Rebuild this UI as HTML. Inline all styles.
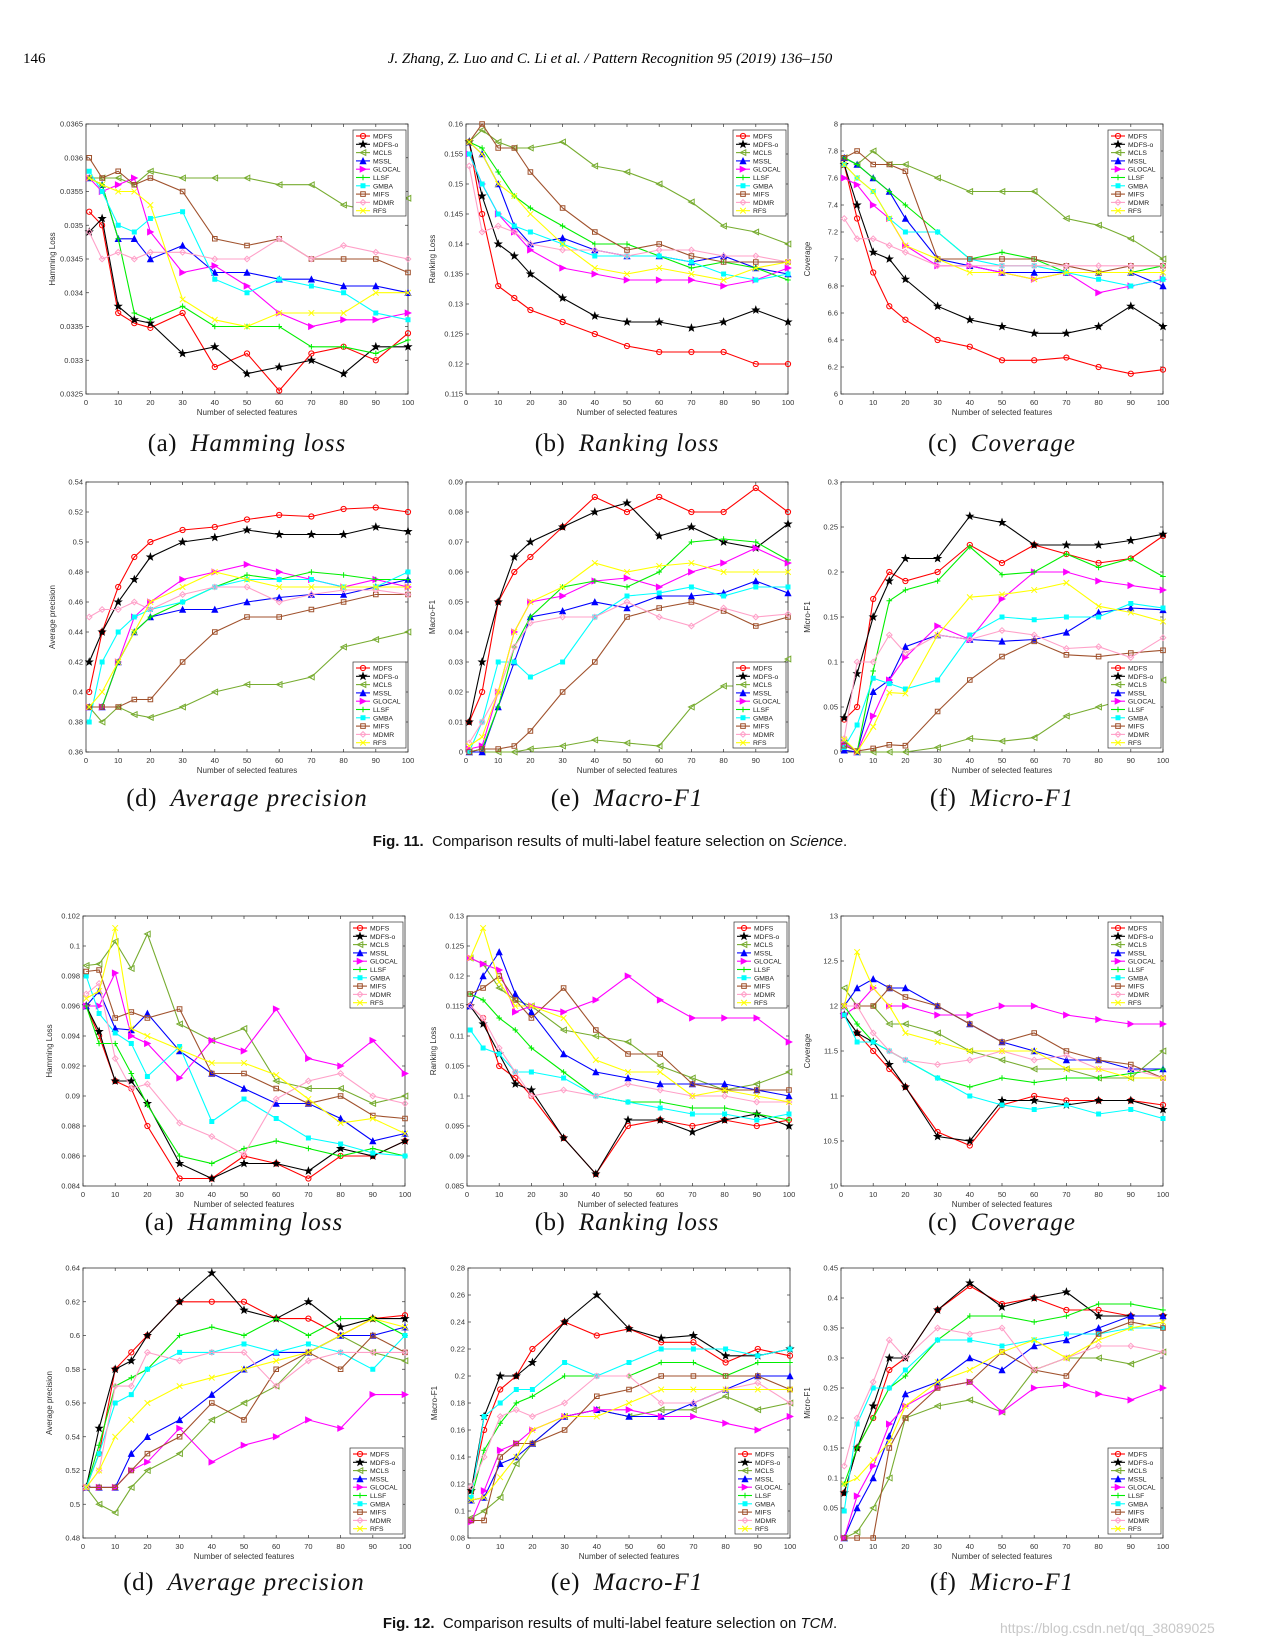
<!DOCTYPE html>
<html><head><meta charset="utf-8">
<style>
html,body{margin:0;padding:0;background:#fff;}
body{width:1269px;height:1642px;position:relative;overflow:hidden;font-family:"Liberation Sans",sans-serif;}
.abs{position:absolute;}
.cap{position:absolute;font-family:"Liberation Serif",serif;font-size:25px;color:#111;transform:translateX(-50%);white-space:nowrap;letter-spacing:0.5px;}
.cap i{letter-spacing:1px;}
.fig{position:absolute;font-family:"Liberation Sans",sans-serif;font-size:15px;color:#111;transform:translateX(-50%);white-space:nowrap;}
</style></head>
<body>
<div class="abs" style="left:23px;top:51px;font-family:'Liberation Serif',serif;font-size:15px;">146</div>
<div class="abs" style="left:610px;top:51px;transform:translateX(-50%);font-family:'Liberation Serif',serif;font-style:italic;font-size:15px;white-space:nowrap;">J. Zhang, Z. Luo and C. Li et al. / Pattern Recognition 95 (2019) 136–150</div>

<svg id="charts" width="1269" height="1642" style="position:absolute;left:0;top:0"></svg>

<div class="cap" style="left:247px;top:430px">(a)&nbsp; <i>Hamming loss</i></div>
<div class="cap" style="left:627px;top:430px">(b)&nbsp; <i>Ranking loss</i></div>
<div class="cap" style="left:1002px;top:430px">(c)&nbsp; <i>Coverage</i></div>
<div class="cap" style="left:247px;top:785px">(d)&nbsp; <i>Average precision</i></div>
<div class="cap" style="left:627px;top:785px">(e)&nbsp; <i>Macro-F1</i></div>
<div class="cap" style="left:1002px;top:785px">(f)&nbsp; <i>Micro-F1</i></div>
<div class="fig" style="left:610px;top:833px"><b>Fig. 11.</b>&nbsp; Comparison results of multi-label feature selection on <i>Science</i>.</div>

<div class="cap" style="left:244px;top:1209px">(a)&nbsp; <i>Hamming loss</i></div>
<div class="cap" style="left:627px;top:1209px">(b)&nbsp; <i>Ranking loss</i></div>
<div class="cap" style="left:1002px;top:1209px">(c)&nbsp; <i>Coverage</i></div>
<div class="cap" style="left:244px;top:1569px">(d)&nbsp; <i>Average precision</i></div>
<div class="cap" style="left:627px;top:1569px">(e)&nbsp; <i>Macro-F1</i></div>
<div class="cap" style="left:1002px;top:1569px">(f)&nbsp; <i>Micro-F1</i></div>
<div class="fig" style="left:610px;top:1615px"><b>Fig. 12.</b>&nbsp; Comparison results of multi-label feature selection on <i>TCM</i>.</div>
<div class="abs" style="left:1000px;top:1620px;font-size:14px;color:#c8c8c8;white-space:nowrap;">https://blog.csdn.net/qq_38089025</div>

<script>
const xs = [1,5,10,15,20,30,40,50,60,70,80,90,100];
const names = ["MDFS","MDFS-o","MCLS","MSSL","GLOCAL","LLSF","GMBA","MIFS","MDMR","RFS"];

const sciHamming = [
[0.0352,0.0350,0.0337,0.03355,0.03348,0.0337,0.0329,0.0331,0.03255,0.0331,0.0332,0.0330,0.0334],
[0.0349,0.0351,0.0338,0.0336,0.03355,0.0331,0.0332,0.0328,0.0329,0.0330,0.0328,0.0332,0.0332],
[0.0357,0.0357,0.0357,0.0356,0.0358,0.0357,0.0357,0.0357,0.0356,0.0356,0.0353,0.0352,0.0354],
[0.0357,0.0356,0.0348,0.0348,0.0345,0.0347,0.0343,0.0343,0.0342,0.0342,0.0341,0.0341,0.0340],
[0.0357,0.0355,0.0356,0.0357,0.0349,0.0343,0.0344,0.0341,0.0337,0.0335,0.0336,0.0336,0.0337],
[0.0357,0.0356,0.0348,0.0337,0.0336,0.0338,0.0335,0.0335,0.0335,0.0332,0.0332,0.0331,0.0333],
[0.0358,0.0355,0.0350,0.0349,0.0351,0.0352,0.0342,0.0340,0.0342,0.0341,0.0340,0.0337,0.0336],
[0.0360,0.0357,0.0358,0.0356,0.0357,0.0355,0.0348,0.0347,0.0348,0.0345,0.0345,0.0345,0.0343],
[0.0349,0.0345,0.0346,0.0345,0.0346,0.0346,0.0345,0.0345,0.0348,0.0345,0.0347,0.0346,0.0345],
[0.0357,0.0356,0.0355,0.0355,0.0353,0.0339,0.0336,0.0335,0.0337,0.0337,0.0337,0.0340,0.0340]];
const sciRanking = [
[0.157,0.145,0.133,0.131,0.129,0.127,0.125,0.123,0.122,0.122,0.122,0.120,0.120],
[0.157,0.148,0.140,0.138,0.135,0.131,0.128,0.127,0.127,0.126,0.127,0.129,0.127],
[0.157,0.159,0.157,0.156,0.156,0.157,0.153,0.152,0.150,0.147,0.143,0.142,0.140],
[0.157,0.155,0.150,0.143,0.140,0.141,0.139,0.138,0.138,0.137,0.138,0.136,0.135],
[0.155,0.150,0.145,0.142,0.139,0.136,0.135,0.134,0.134,0.134,0.133,0.134,0.136],
[0.157,0.156,0.152,0.148,0.146,0.143,0.140,0.140,0.138,0.136,0.137,0.136,0.134],
[0.155,0.150,0.145,0.143,0.142,0.140,0.138,0.138,0.138,0.137,0.135,0.134,0.135],
[0.157,0.160,0.156,0.156,0.152,0.146,0.142,0.139,0.140,0.138,0.137,0.137,0.137],
[0.153,0.142,0.143,0.142,0.140,0.139,0.139,0.138,0.139,0.139,0.138,0.138,0.137],
[0.157,0.155,0.150,0.148,0.145,0.140,0.136,0.135,0.136,0.135,0.134,0.136,0.137]];
const sciCoverage = [
[7.7,7.3,6.9,6.65,6.55,6.4,6.35,6.25,6.25,6.27,6.2,6.15,6.18],
[7.7,7.4,7.05,7.0,6.85,6.65,6.55,6.5,6.45,6.45,6.5,6.65,6.5],
[7.75,7.7,7.8,7.7,7.7,7.6,7.5,7.5,7.5,7.3,7.25,7.15,7.0],
[7.75,7.7,7.6,7.5,7.3,7.0,6.95,6.9,6.9,6.9,6.9,6.9,6.8],
[7.6,7.55,7.4,7.3,7.1,6.95,6.95,6.9,6.85,6.9,6.75,6.8,6.85],
[7.75,7.7,7.6,7.5,7.4,7.2,7.0,7.05,7.0,6.9,6.9,6.9,6.95],
[7.7,7.6,7.5,7.3,7.2,7.2,7.0,6.95,6.95,6.9,6.85,6.8,6.85],
[7.75,7.8,7.7,7.7,7.65,7.0,7.0,7.0,7.0,6.95,6.9,6.95,6.95],
[7.3,7.15,7.15,7.1,7.05,6.95,6.95,6.95,6.95,6.95,6.95,6.95,6.95],
[7.7,7.6,7.5,7.3,7.1,7.0,6.9,6.9,6.85,6.9,6.9,6.9,6.9]];
const sciAvgPrec = [
[0.40,0.44,0.47,0.49,0.50,0.508,0.51,0.515,0.518,0.517,0.522,0.523,0.52],
[0.42,0.44,0.46,0.475,0.49,0.50,0.503,0.508,0.505,0.505,0.505,0.51,0.507],
[0.39,0.38,0.39,0.385,0.383,0.39,0.40,0.405,0.405,0.41,0.43,0.435,0.44],
[0.39,0.39,0.42,0.44,0.45,0.455,0.455,0.46,0.463,0.465,0.465,0.47,0.475],
[0.39,0.39,0.42,0.45,0.46,0.475,0.48,0.485,0.48,0.475,0.47,0.475,0.47],
[0.39,0.39,0.42,0.44,0.45,0.46,0.47,0.478,0.475,0.48,0.478,0.475,0.475],
[0.38,0.42,0.44,0.45,0.455,0.46,0.47,0.475,0.475,0.475,0.47,0.47,0.48],
[0.39,0.39,0.39,0.395,0.395,0.42,0.44,0.45,0.45,0.455,0.46,0.465,0.465],
[0.45,0.455,0.455,0.46,0.455,0.465,0.47,0.47,0.46,0.465,0.468,0.468,0.465],
[0.39,0.40,0.42,0.44,0.46,0.47,0.48,0.475,0.47,0.47,0.47,0.47,0.47]];
const sciMacro = [
[0.01,0.02,0.05,0.06,0.065,0.075,0.085,0.08,0.085,0.08,0.08,0.088,0.08],
[0.01,0.03,0.05,0.065,0.07,0.075,0.08,0.083,0.072,0.075,0.07,0.068,0.076],
[0,0,0,0,0.001,0.002,0.004,0.003,0.002,0.015,0.022,0.022,0.031],
[0,0,0.015,0.03,0.045,0.047,0.05,0.048,0.052,0.052,0.053,0.057,0.053],
[0.001,0.002,0.02,0.04,0.05,0.052,0.057,0.058,0.055,0.06,0.063,0.068,0.063],
[0,0.001,0.015,0.035,0.045,0.055,0.057,0.055,0.06,0.07,0.071,0.07,0.064],
[0,0.01,0.03,0.03,0.025,0.03,0.045,0.052,0.053,0.055,0.052,0.055,0.055],
[0,0.001,0.001,0.002,0.007,0.02,0.03,0.045,0.048,0.05,0.047,0.042,0.045],
[0.003,0.01,0.02,0.035,0.043,0.045,0.045,0.05,0.045,0.042,0.048,0.045,0.046],
[0.002,0.005,0.02,0.04,0.05,0.055,0.063,0.06,0.062,0.063,0.06,0.06,0.06]];
const sciMicro = [
[0.036,0.05,0.17,0.2,0.19,0.2,0.23,0.21,0.23,0.22,0.21,0.215,0.24],
[0.038,0.087,0.15,0.19,0.215,0.215,0.262,0.255,0.23,0.23,0.23,0.235,0.242],
[0.01,0,0,0,0,0.005,0.015,0.012,0.016,0.04,0.05,0.06,0.08],
[0.002,0,0.067,0.08,0.117,0.13,0.125,0.123,0.125,0.133,0.155,0.16,0.158],
[0.01,0,0.04,0.08,0.105,0.14,0.125,0.17,0.2,0.2,0.19,0.185,0.18],
[0.013,0,0.09,0.168,0.18,0.19,0.228,0.197,0.2,0.22,0.205,0.215,0.195],
[0.005,0.03,0.082,0.076,0.07,0.08,0.13,0.15,0.147,0.15,0.15,0.165,0.16],
[0.007,0.001,0.004,0.008,0.007,0.045,0.08,0.106,0.123,0.108,0.106,0.11,0.113],
[0.015,0.1,0.1,0.13,0.11,0.13,0.125,0.135,0.13,0.115,0.117,0.105,0.127],
[0.014,0,0.028,0.066,0.065,0.13,0.172,0.175,0.18,0.188,0.162,0.155,0.145]];
const tcmHamming = [
[0.096,0.094,0.091,0.0905,0.088,0.0845,0.0845,0.086,0.0855,0.0845,0.086,0.086,0.087],
[0.096,0.0943,0.091,0.091,0.0895,0.0855,0.0845,0.0855,0.0855,0.085,0.0865,0.086,0.087],
[0.0987,0.0988,0.1003,0.0985,0.1008,0.0948,0.0937,0.0945,0.091,0.0905,0.0905,0.0895,0.09],
[0.096,0.097,0.0945,0.0944,0.0955,0.093,0.0915,0.0905,0.0895,0.0895,0.0885,0.087,0.0875],
[0.096,0.096,0.0982,0.094,0.0935,0.0912,0.0937,0.093,0.0958,0.0925,0.092,0.0937,0.0915],
[0.096,0.0935,0.0935,0.0915,0.0894,0.086,0.0855,0.0865,0.087,0.0865,0.086,0.0865,0.086],
[0.098,0.0955,0.0942,0.0935,0.0913,0.0933,0.0883,0.0898,0.0885,0.0872,0.0868,0.0862,0.086],
[0.0983,0.0984,0.0952,0.0956,0.0952,0.0958,0.0915,0.0915,0.0905,0.0895,0.09,0.0887,0.0885],
[0.0968,0.0975,0.0925,0.0905,0.0908,0.0882,0.0873,0.0861,0.0898,0.091,0.0915,0.09,0.0895],
[0.0965,0.097,0.1012,0.0945,0.094,0.0931,0.0922,0.0922,0.0914,0.0898,0.0882,0.0885,0.0875]];
const tcmRanking = [
[0.115,0.113,0.105,0.103,0.100,0.093,0.087,0.095,0.096,0.095,0.096,0.095,0.096],
[0.115,0.112,0.107,0.102,0.101,0.093,0.087,0.096,0.096,0.094,0.096,0.097,0.095],
[0.123,0.122,0.118,0.116,0.115,0.111,0.110,0.109,0.105,0.103,0.101,0.102,0.104],
[0.115,0.120,0.124,0.117,0.114,0.107,0.104,0.103,0.102,0.102,0.102,0.101,0.100],
[0.123,0.122,0.121,0.114,0.115,0.114,0.116,0.120,0.116,0.113,0.113,0.113,0.109],
[0.117,0.116,0.113,0.111,0.108,0.104,0.100,0.099,0.099,0.098,0.098,0.097,0.096],
[0.111,0.108,0.107,0.104,0.104,0.103,0.100,0.099,0.098,0.097,0.097,0.096,0.097],
[0.117,0.118,0.120,0.116,0.113,0.118,0.111,0.107,0.107,0.102,0.101,0.101,0.101],
[0.115,0.113,0.108,0.104,0.100,0.101,0.100,0.102,0.101,0.100,0.100,0.099,0.099],
[0.123,0.128,0.119,0.115,0.115,0.113,0.106,0.104,0.104,0.100,0.101,0.100,0.099]];
const tcmCoverage = [
[11.9,11.7,11.5,11.3,11.1,10.6,10.45,10.9,11.0,10.95,10.95,10.95,10.9],
[11.9,11.7,11.6,11.35,11.1,10.55,10.5,10.95,10.95,10.9,10.95,10.95,10.85],
[12.2,12.0,12.0,11.8,11.8,11.7,11.5,11.4,11.3,11.3,11.2,11.2,11.5],
[12.0,12.2,12.3,12.2,12.2,12.0,11.8,11.6,11.5,11.4,11.4,11.3,11.3],
[11.9,12.0,12.2,12.0,12.0,11.9,11.9,12.0,12.0,11.9,11.85,11.8,11.8],
[12.0,11.8,11.6,11.5,11.4,11.2,11.1,11.2,11.15,11.2,11.2,11.25,11.3],
[11.9,11.6,11.6,11.5,11.4,11.2,11.0,10.9,10.85,10.9,10.8,10.85,10.75],
[12.0,12.0,12.0,12.2,12.1,12.0,11.8,11.6,11.7,11.5,11.4,11.35,11.2],
[12.0,12.0,11.7,11.5,11.4,11.35,11.4,11.5,11.4,11.45,11.3,11.3,11.2],
[12.0,12.6,12.2,12.0,11.7,11.6,11.5,11.5,11.5,11.3,11.3,11.2,11.2]];
const tcmAvgPrec = [
[0.51,0.53,0.58,0.59,0.60,0.62,0.62,0.62,0.61,0.61,0.60,0.61,0.612],
[0.51,0.545,0.58,0.585,0.60,0.62,0.637,0.615,0.61,0.62,0.605,0.61,0.61],
[0.51,0.50,0.495,0.51,0.52,0.53,0.55,0.56,0.57,0.59,0.60,0.59,0.585],
[0.51,0.51,0.51,0.53,0.54,0.55,0.565,0.58,0.59,0.59,0.60,0.60,0.605],
[0.51,0.51,0.51,0.52,0.525,0.545,0.525,0.535,0.54,0.55,0.545,0.565,0.565],
[0.51,0.535,0.57,0.575,0.58,0.60,0.605,0.60,0.61,0.60,0.61,0.61,0.60],
[0.51,0.53,0.56,0.565,0.58,0.59,0.59,0.595,0.59,0.595,0.59,0.58,0.60],
[0.51,0.51,0.51,0.52,0.53,0.54,0.56,0.55,0.58,0.59,0.58,0.60,0.59],
[0.51,0.52,0.57,0.57,0.59,0.585,0.59,0.59,0.57,0.585,0.59,0.59,0.59],
[0.51,0.52,0.54,0.55,0.56,0.57,0.575,0.58,0.585,0.59,0.60,0.61,0.605]];
const tcmMacro = [
[0.115,0.16,0.19,0.2,0.22,0.24,0.23,0.235,0.225,0.225,0.21,0.22,0.215],
[0.115,0.17,0.2,0.2,0.21,0.24,0.26,0.235,0.228,0.23,0.215,0.215,0.22],
[0.095,0.1,0.11,0.135,0.15,0.17,0.175,0.17,0.175,0.175,0.185,0.175,0.18],
[0.108,0.11,0.135,0.14,0.15,0.17,0.175,0.17,0.17,0.18,0.19,0.2,0.2],
[0.092,0.115,0.145,0.15,0.16,0.17,0.175,0.175,0.17,0.17,0.165,0.16,0.17],
[0.11,0.145,0.165,0.18,0.185,0.2,0.2,0.2,0.21,0.21,0.2,0.21,0.21],
[0.11,0.17,0.18,0.19,0.19,0.21,0.2,0.21,0.22,0.22,0.22,0.215,0.22],
[0.093,0.093,0.14,0.15,0.15,0.16,0.185,0.19,0.2,0.2,0.2,0.2,0.19],
[0.118,0.14,0.17,0.175,0.17,0.18,0.2,0.2,0.18,0.18,0.19,0.195,0.18],
[0.108,0.11,0.125,0.14,0.16,0.17,0.17,0.18,0.19,0.19,0.19,0.19,0.19]];
const tcmMicro = [
[0.075,0.15,0.2,0.28,0.3,0.38,0.42,0.39,0.4,0.38,0.38,0.37,0.37],
[0.075,0.15,0.22,0.3,0.3,0.38,0.425,0.385,0.4,0.41,0.37,0.37,0.37],
[0,0.01,0.05,0.1,0.2,0.22,0.23,0.21,0.28,0.3,0.3,0.29,0.31],
[0,0.05,0.1,0.17,0.24,0.26,0.3,0.28,0.32,0.33,0.35,0.37,0.37],
[0,0.07,0.12,0.19,0.22,0.25,0.26,0.21,0.25,0.255,0.24,0.23,0.25],
[0.09,0.15,0.2,0.25,0.27,0.33,0.37,0.37,0.36,0.37,0.39,0.39,0.38],
[0.045,0.19,0.25,0.25,0.28,0.33,0.33,0.32,0.33,0.34,0.34,0.35,0.35],
[0,0,0,0.15,0.2,0.25,0.26,0.31,0.28,0.27,0.34,0.36,0.35],
[0.12,0.2,0.26,0.33,0.3,0.35,0.34,0.35,0.28,0.3,0.32,0.32,0.31],
[0.09,0.1,0.13,0.16,0.22,0.26,0.28,0.31,0.33,0.3,0.33,0.35,0.36]];

const xTicks = [0,10,20,30,40,50,60,70,80,90,100];
const ticksHammingSci = [0.0325,0.033,0.0335,0.034,0.0345,0.035,0.0355,0.036,0.0365];
const ticksRankingSci = [0.115,0.12,0.125,0.13,0.135,0.14,0.145,0.15,0.155,0.16];
const ticksCoverageSci = [6,6.2,6.4,6.6,6.8,7,7.2,7.4,7.6,7.8,8];
const ticksAvgSci = [0.36,0.38,0.4,0.42,0.44,0.46,0.48,0.5,0.52,0.54];
const ticksMacroSci = [0,0.01,0.02,0.03,0.04,0.05,0.06,0.07,0.08,0.09];
const ticksMicroSci = [0,0.05,0.1,0.15,0.2,0.25,0.3];
const ticksHammingTcm = [0.084,0.086,0.088,0.09,0.092,0.094,0.096,0.098,0.1,0.102];
const ticksRankingTcm = [0.085,0.09,0.095,0.1,0.105,0.11,0.115,0.12,0.125,0.13];
const ticksCoverageTcm = [10,10.5,11,11.5,12,12.5,13];
const ticksAvgTcm = [0.48,0.5,0.52,0.54,0.56,0.58,0.6,0.62,0.64];
const ticksMacroTcm = [0.08,0.1,0.12,0.14,0.16,0.18,0.2,0.22,0.24,0.26,0.28];
const ticksMicroTcm = [0,0.05,0.1,0.15,0.2,0.25,0.3,0.35,0.4,0.45];

const colors = ["#ff0000","#000000","#77ac30","#0000ff","#ff00ff","#00ee00","#00ffff","#a0522d","#ffa0c8","#ffff00"];
const NS = "http://www.w3.org/2000/svg";
const svg = document.getElementById('charts');

function mk(tag, attrs, parent){
  const e = document.createElementNS(NS, tag);
  for (const k in attrs) e.setAttribute(k, attrs[k]);
  (parent||svg).appendChild(e);
  return e;
}
function markerPath(i, x, y){
  const s = 2.8;
  switch(i){
    case 0: return null;
    case 1: { let p=""; for(let k=0;k<10;k++){const r=k%2?1.4:3.4;const a=-Math.PI/2+k*Math.PI/5;p+=(k?"L":"M")+(x+r*Math.cos(a)).toFixed(2)+","+(y+r*Math.sin(a)).toFixed(2);} return p+"Z"; }
    case 2: return `M${x-s},${y}L${x+s},${y-s}L${x+s},${y+s}Z`;
    case 3: return `M${x},${y-s}L${x+s},${y+s}L${x-s},${y+s}Z`;
    case 4: return `M${x+s},${y}L${x-s},${y-s}L${x-s},${y+s}Z`;
    case 5: return `M${x-s},${y}L${x+s},${y}M${x},${y-s}L${x},${y+s}`;
    case 6: return `M${x-2},${y-2}L${x+2},${y-2}L${x+2},${y+2}L${x-2},${y+2}Z`;
    case 7: return `M${x-2.3},${y-2.3}L${x+2.3},${y-2.3}L${x+2.3},${y+2.3}L${x-2.3},${y+2.3}Z`;
    case 8: return `M${x},${y-s}L${x+s},${y}L${x},${y+s}L${x-s},${y}Z`;
    case 9: return `M${x-s},${y-s}L${x+s},${y+s}M${x+s},${y-s}L${x-s},${y+s}`;
  }
}
function drawMarker(g, i, x, y){
  const c = colors[i];
  if (i===0){ const m=mk('circle',{cx:x,cy:y,r:2.6,fill:'none',stroke:c,'stroke-width':1},g); return m; }
  const filled = (i===1||i===3||i===4||i===6);
  const fill = filled ? c : (i===2||i===8 ? 'none' : 'none');
  return mk('path',{d:markerPath(i,x,y),fill:(i===2||i===8)?'none':fill,stroke:c,'stroke-width':1},g);
}
function fmt(v){ return String(parseFloat(v.toFixed(5))); }

function chart(id, L, T, W, H, series, ticks, ylabel, legendTop){
  const ymin = ticks[0], ymax = ticks[ticks.length-1];
  const sx = v => L + (v/100)*W;
  const sy = v => T + H - (v-ymin)/(ymax-ymin)*H;
  const g = mk('g',{});
  
  
  // axes frame
  const fr = mk('rect',{x:L,y:T,width:W,height:H,fill:'none',stroke:'#333','stroke-width':0.8},g);
  
  
  xTicks.forEach(t=>{
    const x = sx(t);
    mk('line',{x1:x,y1:T+H,x2:x,y2:T+H-3,stroke:'#333','stroke-width':0.7},g);
    mk('line',{x1:x,y1:T,x2:x,y2:T+3,stroke:'#333','stroke-width':0.7},g);
    const tx = mk('text',{x:x,y:T+H+11,'font-size':7.5,'text-anchor':'middle',fill:'#333','font-family':'Liberation Sans, sans-serif'},g);
    tx.textContent = t;
    
    
  });
  ticks.forEach(t=>{
    const y = sy(t);
    mk('line',{x1:L,y1:y,x2:L+3,y2:y,stroke:'#333','stroke-width':0.7},g);
    mk('line',{x1:L+W,y1:y,x2:L+W-3,y2:y,stroke:'#333','stroke-width':0.7},g);
    const ty = mk('text',{x:L-3,y:y+2.5,'font-size':7.5,'text-anchor':'end',fill:'#333','font-family':'Liberation Sans, sans-serif'},g);
    ty.textContent = fmt(t);
    
    
  });
  const xl = mk('text',{x:L+W/2,y:T+H+21,'font-size':8,'text-anchor':'middle',fill:'#333','font-family':'Liberation Sans, sans-serif'},g);
  xl.textContent = 'Number of selected features';
  
  
  const yl = mk('text',{x:0,y:0,'font-size':8,'text-anchor':'middle',fill:'#333','font-family':'Liberation Sans, sans-serif',transform:`translate(${L-31},${T+H/2}) rotate(-90)`},g);
  yl.textContent = ylabel;
  
  
  // series
  series.forEach((vals,i)=>{
    const sg = mk('g',{},g);
    
    
    const pts = vals.map((v,k)=>sx(xs[k]).toFixed(1)+','+sy(v).toFixed(1)).join(' ');
    mk('polyline',{points:pts,fill:'none',stroke:colors[i],'stroke-width':1.1},sg);
    vals.forEach((v,k)=>{ drawMarker(sg,i,sx(xs[k]),sy(v)); });
  });
  // legend
  const lw = 53, lh = 86;
  const lx = L+W-lw-2, ly = legendTop ? T+6 : T+H-lh-4;
  const lg = mk('g',{},g);
  
  
  mk('rect',{x:lx,y:ly,width:lw,height:lh,fill:'#fff',stroke:'#333','stroke-width':0.7},lg);
  names.forEach((n,i)=>{
    const yy = ly+6+i*8.3;
    const eg = mk('g',{},lg);
    
    
    mk('line',{x1:lx+3,y1:yy,x2:lx+17,y2:yy,stroke:colors[i],'stroke-width':1.1},eg);
    drawMarker(eg,i,lx+10,yy);
    const t = mk('text',{x:lx+20,y:yy+2.5,'font-size':6.8,fill:'#222','font-family':'Liberation Sans, sans-serif'},eg);
    t.textContent = n;
  });
}

const W = 322, H = 270;
chart('chart-science-hamming-loss', 86,124,W,H, sciHamming, ticksHammingSci, 'Hamming Loss', true);
chart('chart-science-ranking-loss', 466,124,W,H, sciRanking, ticksRankingSci, 'Ranking Loss', true);
chart('chart-science-coverage', 841,124,W,H, sciCoverage, ticksCoverageSci, 'Coverage', true);
chart('chart-science-average-precision', 86,482,W,H, sciAvgPrec, ticksAvgSci, 'Average precision', false);
chart('chart-science-macro-f1', 466,482,W,H, sciMacro, ticksMacroSci, 'Macro-F1', false);
chart('chart-science-micro-f1', 841,482,W,H, sciMicro, ticksMicroSci, 'Micro-F1', false);
chart('chart-tcm-hamming-loss', 83,916,W,H, tcmHamming, ticksHammingTcm, 'Hamming Loss', true);
chart('chart-tcm-ranking-loss', 467,916,W,H, tcmRanking, ticksRankingTcm, 'Ranking Loss', true);
chart('chart-tcm-coverage', 841,916,W,H, tcmCoverage, ticksCoverageTcm, 'Coverage', true);
chart('chart-tcm-average-precision', 83,1268,W,H, tcmAvgPrec, ticksAvgTcm, 'Average precision', false);
chart('chart-tcm-macro-f1', 468,1268,W,H, tcmMacro, ticksMacroTcm, 'Macro-F1', false);
chart('chart-tcm-micro-f1', 841,1268,W,H, tcmMicro, ticksMicroTcm, 'Micro-F1', false);
</script>
</body></html>
